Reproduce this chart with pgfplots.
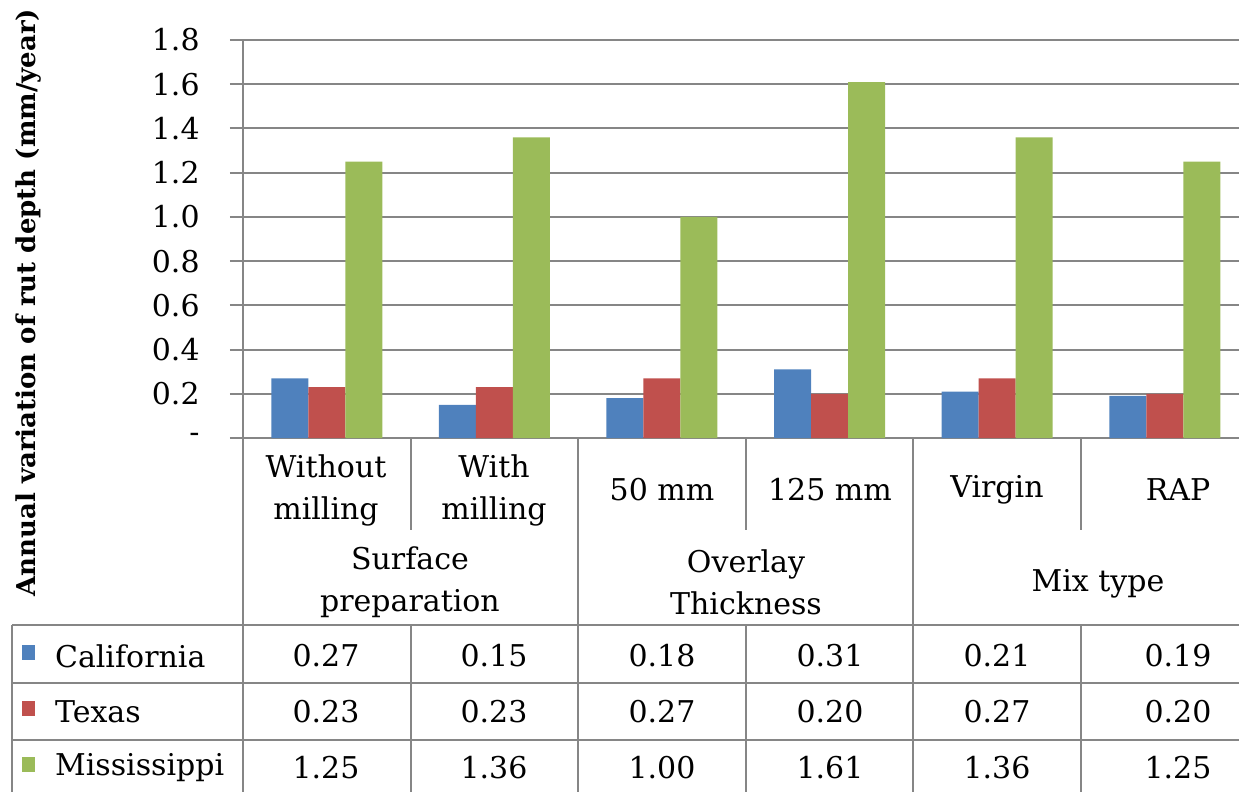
\documentclass[border=0pt]{standalone}
\usepackage{fontspec}
\setmainfont{DejaVu Serif}
\usepackage{pgfplots}
\usepackage{pgfplotstable}
\pgfplotsset{compat=1.18}
\definecolor{cblue}{RGB}{79,129,189}
\definecolor{cred}{RGB}{192,80,77}
\definecolor{cgreen}{RGB}{155,187,89}
\definecolor{gridgray}{RGB}{134,134,134}

\pgfplotstableread{
x ca tx ms
0 0.27 0.23 1.25
1 0.15 0.23 1.36
2 0.18 0.27 1.00
3 0.31 0.20 1.61
4 0.21 0.27 1.36
5 0.19 0.20 1.25
}\datatable

\newcommand\fs{\fontsize{15}{21}\selectfont}

\begin{document}
\begin{tikzpicture}
\begin{axis}[
  at={(121.5pt,-219pt)}, anchor=south west,
  scale only axis, width=498pt, height=199pt,
  xmin=-0.5, xmax=5.443, ymin=0, ymax=1.8,
  ybar=0pt, bar width=18.5pt,
  axis line style={draw=none},
  xtick=\empty,
  ytick={0,0.2,0.4,0.6,0.8,1.0,1.2,1.4,1.6,1.8},
  yticklabels={-,0.2,0.4,0.6,0.8,1.0,1.2,1.4,1.6,1.8},
  /pgf/number format/assume math mode=true,
  ymajorgrids, grid style={gridgray, line width=1pt},
  tick align=outside, major tick length=6.5pt,
  ytick style={gridgray, line width=1pt},
  yticklabel style={font=\fs, anchor=east, inner sep=0pt, xshift=-15pt},
  ylabel={Annual variation of rut depth (mm/year)},
  ylabel style={at={(axis description cs:-0.2149,0.34)}, anchor=center,
    font=\bfseries\fontsize{13}{15}\selectfont},
  clip=false,
]
\addplot[fill=cblue, draw=none] table[x=x,y=ca]{\datatable};
\addplot[fill=cred, draw=none] table[x=x,y=tx]{\datatable};
\addplot[fill=cgreen, draw=none] table[x=x,y=ms]{\datatable};
\end{axis}
\begin{scope}[x=0.5pt,y=-0.5pt]
  \begin{scope}[draw=gridgray, line width=1.1pt]
    \draw (243,40) -- (243,800);
    \draw (578,438) -- (578,800);
    \draw (913,438) -- (913,800);
    \foreach \xx in {411,746,1081} {
      \draw (\xx,438) -- (\xx,530);
      \draw (\xx,625) -- (\xx,800);
    }
    \draw (12,625) -- (1260,625);
    \draw (12,683) -- (1260,683);
    \draw (12,740) -- (1260,740);
    \draw (12,625) -- (12,800);
  \end{scope}
  \begin{scope}[font=\fs, align=center]
    \node at (326,490) {Without\\milling};
    \node at (494,490) {With\\milling};
    \node at (662,490) {50 mm};
    \node at (830,490) {125 mm};
    \node at (997,490) {Virgin};
    \node at (1178,490) {RAP};
    \node at (410,582) {Surface\\preparation};
    \node at (746,582) {Overlay\\Thickness};
    \node at (1098,584) {Mix type};
    \fill[cblue] (22,645) rectangle (35,660);
    \fill[cred] (22,701) rectangle (35,716);
    \fill[cgreen] (22,757) rectangle (35,772);
    \node[anchor=west] at (48,656) {California};
    \node[anchor=west] at (48,712) {Texas};
    \node[anchor=west] at (48,768) {Mississippi};
    \foreach \i/\xc in {0/326,1/494,2/662,3/830,4/997,5/1178} {
      \pgfplotstablegetelem{\i}{ca}\of\datatable
      \node at (\xc,656) {\pgfplotsretval};
      \pgfplotstablegetelem{\i}{tx}\of\datatable
      \node at (\xc,712) {\pgfplotsretval};
      \pgfplotstablegetelem{\i}{ms}\of\datatable
      \node at (\xc,768) {\pgfplotsretval};
    }
  \end{scope}
  \pgfresetboundingbox
  \useasboundingbox (0,0) rectangle (1239,792);
\end{scope}
\end{tikzpicture}
\end{document}
